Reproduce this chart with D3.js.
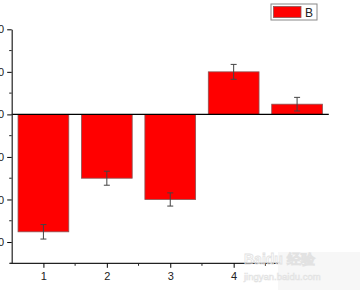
<!DOCTYPE html>
<html>
<head>
<meta charset="utf-8">
<script src="https://cdn.jsdelivr.net/npm/d3@7"></script>
<style>
  body { margin: 0; background: #fff; }
  svg { display: block; font-family: "Liberation Sans", Arial, sans-serif; }
</style>
</head>
<body>
<div id="vis"></div>
<script>
// data
const CATEGORIES = [1, 2, 3, 4, 5];
const VALUES = [-27.6, -15.0, -20.0, 10.0, 2.4];
const ERRORS = [1.7, 1.65, 1.55, 1.75, 1.6];
const Y_TICKS = [20, 10, 0, -10, -20, -30];
// tick 5 sits under the watermark in the reference, so only 1-4 show
const X_TICKS = [1, 2, 3, 4];
const SERIES_NAME = "B";

// frame constants
const FRAME_WIDTH = 360;
const FRAME_HEIGHT = 290;
const AXIS_LEFT = 11.7;
const AXIS_RIGHT = 328.8;
const AXIS_TOP = 29.3;
const AXIS_BOTTOM = 263.3;

const FRAME = d3.select("#vis")
  .append("svg")
  .attr("width", FRAME_WIDTH)
  .attr("height", FRAME_HEIGHT);

// scales
const X_SCALE = d3.scaleLinear()
  .domain([0.5, 5.5])
  .range([AXIS_LEFT, AXIS_RIGHT]);

const Y_SCALE = d3.scaleLinear()
  .domain([-35, 20])
  .range([AXIS_BOTTOM, AXIS_TOP]);

// bars
FRAME.selectAll(".bar")
  .data(CATEGORIES)
  .enter()
  .append("rect")
  .attr("class", "bar")
  .attr("x", (d) => X_SCALE(d - 0.4))
  .attr("width", (d) => X_SCALE(d + 0.4) - X_SCALE(d - 0.4))
  .attr("y", (d, i) => Y_SCALE(Math.max(0, VALUES[i])))
  .attr("height", (d, i) => Math.abs(Y_SCALE(VALUES[i]) - Y_SCALE(0)))
  .attr("fill", "#ff0000")
  .attr("stroke", "#8a5555")
  .attr("stroke-width", 0.8);

// error bars
const ERR = FRAME.selectAll(".err")
  .data(CATEGORIES)
  .enter()
  .append("g")
  .attr("class", "err")
  .attr("stroke", "#444")
  .attr("stroke-width", 1);

ERR.append("line")
  .attr("x1", (d) => X_SCALE(d))
  .attr("x2", (d) => X_SCALE(d))
  .attr("y1", (d, i) => Y_SCALE(VALUES[i] + ERRORS[i]))
  .attr("y2", (d, i) => Y_SCALE(VALUES[i] - ERRORS[i]));

ERR.append("line")
  .attr("x1", (d) => X_SCALE(d) - 3)
  .attr("x2", (d) => X_SCALE(d) + 3)
  .attr("y1", (d, i) => Y_SCALE(VALUES[i] + ERRORS[i]))
  .attr("y2", (d, i) => Y_SCALE(VALUES[i] + ERRORS[i]));

ERR.append("line")
  .attr("x1", (d) => X_SCALE(d) - 3)
  .attr("x2", (d) => X_SCALE(d) + 3)
  .attr("y1", (d, i) => Y_SCALE(VALUES[i] - ERRORS[i]))
  .attr("y2", (d, i) => Y_SCALE(VALUES[i] - ERRORS[i]));

// zero line
FRAME.append("line")
  .attr("x1", X_SCALE(0.5))
  .attr("x2", X_SCALE(5.5))
  .attr("y1", Y_SCALE(0))
  .attr("y2", Y_SCALE(0))
  .attr("stroke", "#000")
  .attr("stroke-width", 1.3);

// y axis with minor ticks
const Y_AXIS = FRAME.append("g")
  .attr("transform", "translate(" + AXIS_LEFT + ",0)")
  .call(d3.axisLeft(Y_SCALE).tickValues(Y_TICKS).tickSize(4.5).tickPadding(3).tickSizeOuter(0))
  .attr("font-size", "11px")
  .attr("font-family", "Liberation Sans, Arial, sans-serif");
Y_AXIS.select(".domain").attr("stroke", "#222").attr("stroke-width", 1.2);
Y_AXIS.selectAll(".tick text").attr("fill", "#222");
Y_AXIS.selectAll(".minor")
  .data(Y_TICKS.map((t) => t - 5).filter((t) => t >= -35 && t <= 20))
  .enter()
  .append("line")
  .attr("class", "minor")
  .attr("x1", -2.5)
  .attr("x2", 0)
  .attr("y1", (d) => Y_SCALE(d))
  .attr("y2", (d) => Y_SCALE(d))
  .attr("stroke", "#222");

// x axis with minor ticks
const X_AXIS = FRAME.append("g")
  .attr("transform", "translate(0," + AXIS_BOTTOM + ")")
  .call(d3.axisBottom(X_SCALE).tickValues(X_TICKS).tickFormat(d3.format("d"))
    .tickSize(4.5).tickPadding(4).tickSizeOuter(0))
  .attr("font-size", "11px")
  .attr("font-family", "Liberation Sans, Arial, sans-serif");
X_AXIS.select(".domain")
  .attr("d", "M" + (AXIS_LEFT - 1.5) + ",0H" + AXIS_RIGHT)
  .attr("stroke", "#222").attr("stroke-width", 1.2);
X_AXIS.selectAll(".tick text").attr("fill", "#222");
X_AXIS.selectAll(".minor")
  .data(X_TICKS.map((t) => t + 0.5))
  .enter()
  .append("line")
  .attr("class", "minor")
  .attr("x1", (d) => X_SCALE(d))
  .attr("x2", (d) => X_SCALE(d))
  .attr("y1", 0)
  .attr("y2", 2.5)
  .attr("stroke", "#222");

// legend
const LEGEND = FRAME.append("g").attr("transform", "translate(271,4)");
LEGEND.append("rect")
  .attr("width", 46).attr("height", 16)
  .attr("fill", "#fff").attr("stroke", "#888").attr("stroke-width", 1);
LEGEND.append("rect")
  .attr("x", 2.5).attr("y", 2.5).attr("width", 27.5).attr("height", 11)
  .attr("fill", "#ff0000").attr("stroke", "#8a5555").attr("stroke-width", 0.8);
LEGEND.append("text")
  .attr("x", 34).attr("y", 12.5)
  .attr("font-size", "12px")
  .attr("fill", "#222")
  .text(SERIES_NAME);

// watermark patch in the lower right corner
const MARK = FRAME.append("g");
MARK.append("rect")
  .attr("x", 278).attr("y", 252).attr("width", 82).attr("height", 38)
  .attr("fill", "#f7f7f7");
MARK.append("text")
  .attr("x", 244).attr("y", 264)
  .attr("font-size", "14px").attr("font-weight", "bold")
  .attr("fill", "none").attr("stroke", "#e2e2e2").attr("stroke-width", 0.8)
  .text("Baidu 经验");
MARK.append("text")
  .attr("x", 244).attr("y", 280)
  .attr("font-size", "9.5px")
  .attr("fill", "none").attr("stroke", "#e2e2e2").attr("stroke-width", 0.6)
  .text("jingyan.baidu.com");
</script>
</body>
</html>
